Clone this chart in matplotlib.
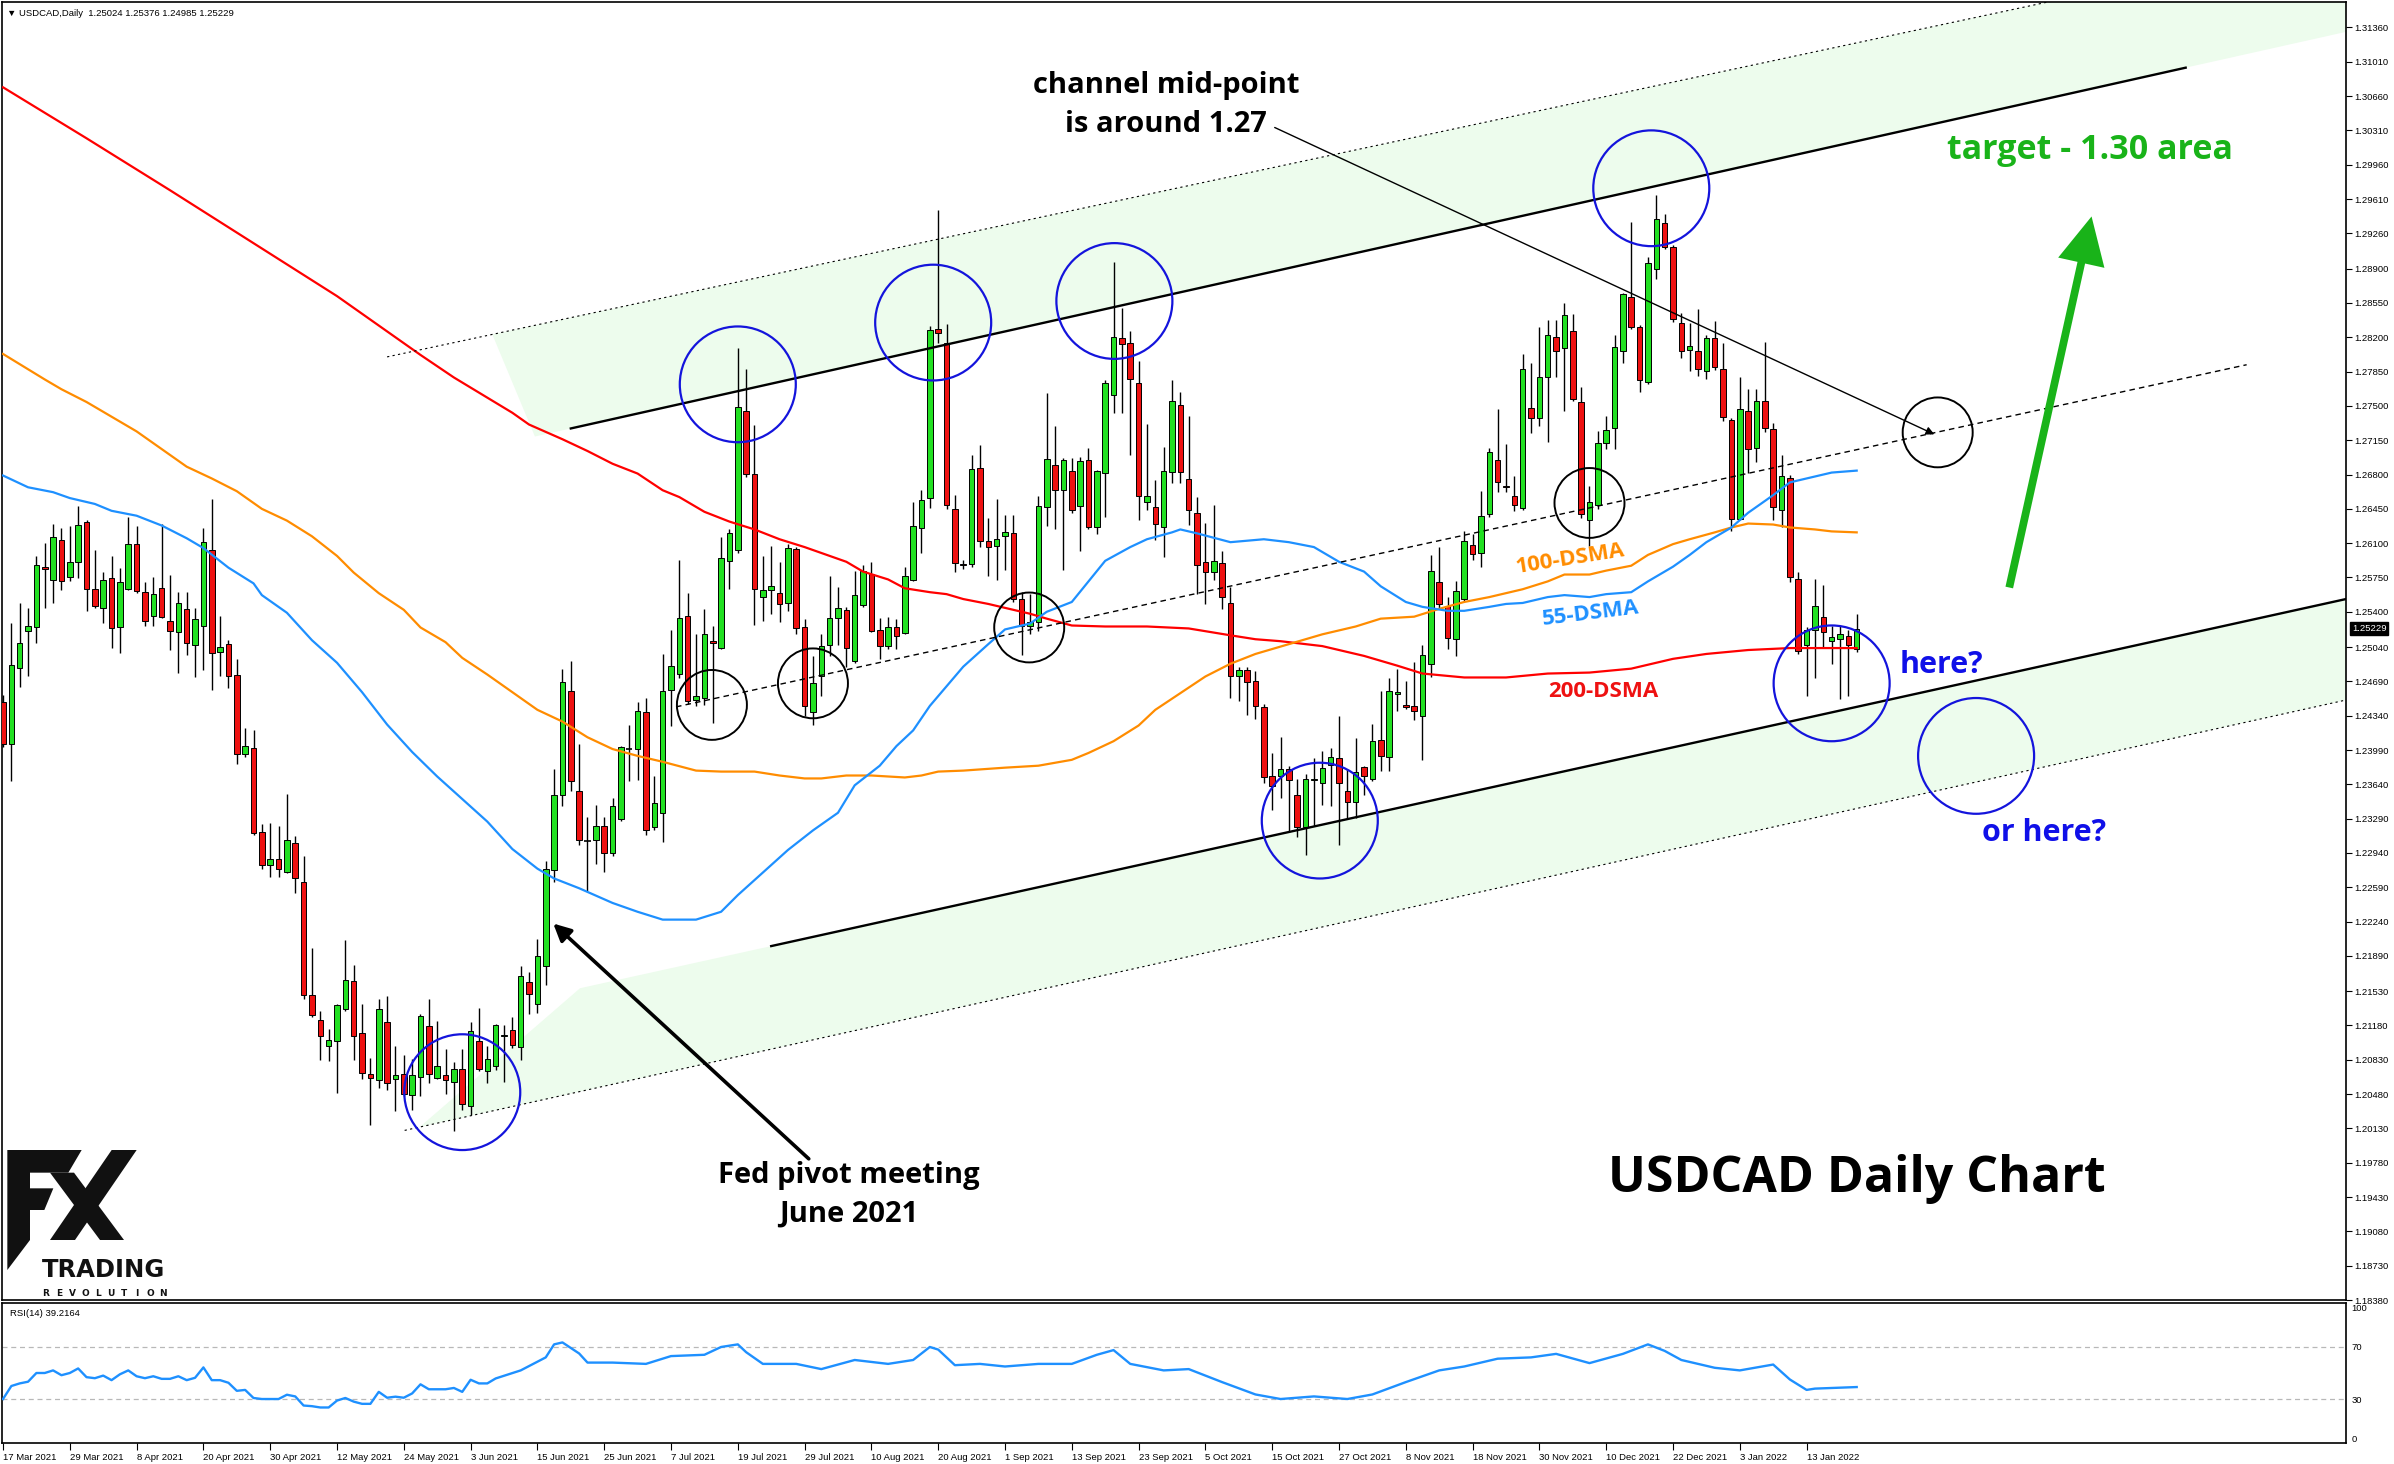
import matplotlib
matplotlib.use("Agg")
import matplotlib.pyplot as plt
import matplotlib.transforms as mtransforms
from matplotlib.patches import Ellipse, Polygon, FancyArrowPatch
import numpy as np

# ---------------- DATA ----------------
x_labels = ['17 Mar 2021', '29 Mar 2021', '8 Apr 2021', '20 Apr 2021', '30 Apr 2021', '12 May 2021',
            '24 May 2021', '3 Jun 2021', '15 Jun 2021', '25 Jun 2021', '7 Jul 2021', '19 Jul 2021',
            '29 Jul 2021', '10 Aug 2021', '20 Aug 2021', '1 Sep 2021', '13 Sep 2021', '23 Sep 2021',
            '5 Oct 2021', '15 Oct 2021', '27 Oct 2021', '8 Nov 2021', '18 Nov 2021', '30 Nov 2021',
            '10 Dec 2021', '22 Dec 2021', '3 Jan 2022', '13 Jan 2022']
x_label_bars = [0, 8, 16, 24, 32, 40, 48, 56, 64, 72, 80, 88, 96, 104, 112, 120, 128, 136,
                144, 152, 160, 168, 176, 184, 192, 200, 208, 216]

y_tick_labels = ['1.31360', '1.31010', '1.30660', '1.30310', '1.29960', '1.29610', '1.29260', '1.28900',
                 '1.28550', '1.28200', '1.27850', '1.27500', '1.27150', '1.26800', '1.26450', '1.26100',
                 '1.25750', '1.25400', '1.25040', '1.24690', '1.24340', '1.23990', '1.23640', '1.23290',
                 '1.22940', '1.22590', '1.22240', '1.21890', '1.21530', '1.21180', '1.20830', '1.20480',
                 '1.20130', '1.19780', '1.19430', '1.19080', '1.18730', '1.18380']

opens = [
1.2448,1.2405,1.2483,1.2520,1.2524,1.2586,1.2572,1.2613,1.2575,1.2591,
1.2632,1.2563,1.2544,1.2574,1.2524,1.2563,1.2609,1.2560,1.2536,1.2564,
1.2531,1.2519,1.2543,1.2506,1.2525,1.2603,1.2499,1.2507,1.2476,1.2395,
1.2401,1.2315,1.2282,1.2288,1.2275,1.2304,1.2264,1.2149,1.2124,1.2097,
1.2102,1.2135,1.2163,1.2110,1.2069,1.2062,1.2122,1.2063,1.2069,1.2047,
1.2065,1.2117,1.2064,1.2067,1.2060,1.2074,1.2036,1.2102,1.2072,1.2077,
1.2107,1.2113,1.2096,1.2162,1.2140,1.2179,1.2277,1.2353,1.2459,1.2357,
1.2306,1.2307,1.2322,1.2294,1.2329,1.2400,1.2400,1.2438,1.2320,1.2335,
1.2460,1.2477,1.2536,1.2450,1.2452,1.2510,1.2503,1.2592,1.2603,1.2745,
1.2681,1.2555,1.2562,1.2559,1.2549,1.2604,1.2524,1.2438,1.2475,1.2506,
1.2534,1.2542,1.2490,1.2547,1.2579,1.2521,1.2505,1.2524,1.2518,1.2572,
1.2625,1.2656,1.2828,1.2814,1.2645,1.2589,1.2589,1.2687,1.2612,1.2607,
1.2617,1.2620,1.2553,1.2525,1.2530,1.2647,1.2690,1.2664,1.2684,1.2648,
1.2695,1.2626,1.2682,1.2761,1.2819,1.2814,1.2773,1.2652,1.2647,1.2626,
1.2683,1.2751,1.2675,1.2641,1.2591,1.2581,1.2590,1.2549,1.2475,1.2481,
1.2469,1.2443,1.2372,1.2372,1.2380,1.2353,1.2320,1.2368,1.2365,1.2384,
1.2391,1.2357,1.2346,1.2382,1.2369,1.2409,1.2392,1.2456,1.2445,1.2444,
1.2434,1.2487,1.2570,1.2546,1.2512,1.2553,1.2608,1.2600,1.2640,1.2695,
1.2668,1.2658,1.2646,1.2748,1.2738,1.2779,1.2820,1.2809,1.2826,1.2754,
1.2634,1.2649,1.2712,1.2727,1.2806,1.2861,1.2830,1.2774,1.2890,1.2937,
1.2912,1.2835,1.2807,1.2806,1.2786,1.2819,1.2788,1.2736,1.2635,1.2745,
1.2707,1.2755,1.2726,1.2644,1.2676,1.2573,1.2506,1.2521,1.2535,1.2510,
1.2512,1.2515,1.25024]

highs = [
1.2455,1.2529,1.2549,1.2544,1.2597,1.2610,1.2630,1.2625,1.2628,1.2648,
1.2634,1.2603,1.2581,1.2597,1.2585,1.2637,1.2628,1.2570,1.2575,1.2630,
1.2578,1.2560,1.2560,1.2544,1.2625,1.2655,1.2536,1.2511,1.2492,1.2421,
1.2419,1.2324,1.2325,1.2321,1.2354,1.2311,1.2291,1.2197,1.2133,1.2114,
1.2140,1.2205,1.2180,1.2140,1.2085,1.2145,1.2148,1.2097,1.2088,1.2084,
1.2130,1.2145,1.2123,1.2094,1.2081,1.2094,1.2122,1.2136,1.2097,1.2120,
1.2119,1.2127,1.2179,1.2173,1.2206,1.2286,1.2380,1.2482,1.2490,1.2405,
1.2331,1.2343,1.2331,1.2350,1.2403,1.2425,1.2448,1.2452,1.2373,1.2497,
1.2521,1.2593,1.2559,1.2517,1.2543,1.2526,1.2616,1.2624,1.2809,1.2788,
1.2731,1.2597,1.2607,1.2591,1.2609,1.2606,1.2533,1.2495,1.2517,1.2577,
1.2565,1.2545,1.2582,1.2588,1.2591,1.2534,1.2535,1.2533,1.2586,1.2652,
1.2664,1.2832,1.2950,1.2834,1.2659,1.2593,1.2700,1.2710,1.2636,1.2655,
1.2639,1.2639,1.2560,1.2558,1.2658,1.2763,1.2729,1.2697,1.2697,1.2698,
1.2707,1.2685,1.2776,1.2897,1.2850,1.2826,1.2796,1.2732,1.2674,1.2708,
1.2776,1.2764,1.2740,1.2657,1.2631,1.2649,1.2602,1.2565,1.2484,1.2484,
1.2480,1.2446,1.2396,1.2412,1.2383,1.2369,1.2375,1.2391,1.2398,1.2401,
1.2434,1.2380,1.2411,1.2383,1.2426,1.2459,1.2472,1.2482,1.2469,1.2489,
1.2506,1.2598,1.2606,1.2555,1.2571,1.2622,1.2619,1.2663,1.2707,1.2747,
1.2711,1.2678,1.2803,1.2794,1.2831,1.2838,1.2838,1.2855,1.2844,1.2769,
1.2668,1.2724,1.2740,1.2822,1.2865,1.2938,1.2833,1.2902,1.2965,1.2946,
1.2914,1.2845,1.2835,1.2849,1.2822,1.2837,1.2814,1.2738,1.2779,1.2767,
1.2767,1.2815,1.2733,1.2700,1.2680,1.2581,1.2524,1.2573,1.2567,1.2526,
1.2525,1.2521,1.25376]

lows = [
1.2402,1.2367,1.2463,1.2475,1.2508,1.2544,1.2549,1.2562,1.2571,1.2574,
1.2541,1.2544,1.2529,1.2503,1.2498,1.2562,1.2559,1.2526,1.2525,1.2534,
1.2501,1.2478,1.2496,1.2473,1.2481,1.2460,1.2474,1.2462,1.2385,1.2392,
1.2312,1.2278,1.2269,1.2269,1.2274,1.2253,1.2145,1.2127,1.2083,1.2082,
1.2049,1.2133,1.2083,1.2063,1.2016,1.2054,1.2052,1.2031,1.2046,1.2032,
1.2046,1.2059,1.2063,1.2048,1.2010,1.2032,1.2027,1.2072,1.2059,1.2073,
1.2060,1.2095,1.2083,1.2130,1.2131,1.2159,1.2264,1.2342,1.2357,1.2302,
1.2255,1.2283,1.2275,1.2291,1.2327,1.2367,1.2368,1.2312,1.2317,1.2305,
1.2424,1.2472,1.2446,1.2444,1.2445,1.2427,1.2502,1.2563,1.2600,1.2677,
1.2527,1.2531,1.2538,1.2530,1.2541,1.2517,1.2434,1.2425,1.2454,1.2495,
1.2506,1.2484,1.2488,1.2545,1.2519,1.2492,1.2502,1.2502,1.2517,1.2571,
1.2600,1.2646,1.2814,1.2645,1.2581,1.2584,1.2586,1.2606,1.2576,1.2572,
1.2583,1.2550,1.2496,1.2517,1.2520,1.2627,1.2624,1.2583,1.2641,1.2602,
1.2624,1.2619,1.2637,1.2743,1.2743,1.2700,1.2634,1.2644,1.2613,1.2596,
1.2671,1.2671,1.2629,1.2558,1.2548,1.2572,1.2543,1.2452,1.2449,1.2435,
1.2431,1.2365,1.2338,1.2350,1.2315,1.2310,1.2292,1.2322,1.2343,1.2342,
1.2302,1.2330,1.2330,1.2353,1.2367,1.2378,1.2378,1.2439,1.2441,1.2430,
1.2389,1.2473,1.2543,1.2502,1.2495,1.2551,1.2593,1.2586,1.2637,1.2662,
1.2662,1.2643,1.2644,1.2722,1.2730,1.2713,1.2779,1.2745,1.2755,1.2636,
1.2607,1.2645,1.2706,1.2706,1.2794,1.2828,1.2764,1.2772,1.2879,1.2910,
1.2836,1.2799,1.2786,1.2781,1.2777,1.2787,1.2735,1.2622,1.2634,1.2682,
1.2693,1.2723,1.2634,1.2626,1.2570,1.2497,1.2454,1.2472,1.2504,1.2487,
1.2451,1.2454,1.24985]

closes = [
1.2405,1.2486,1.2508,1.2525,1.2588,1.2584,1.2616,1.2571,1.2591,1.2629,
1.2563,1.2546,1.2572,1.2523,1.2570,1.2609,1.2561,1.2531,1.2558,1.2535,
1.2520,1.2549,1.2508,1.2533,1.2611,1.2498,1.2504,1.2475,1.2395,1.2403,
1.2314,1.2282,1.2288,1.2278,1.2307,1.2268,1.2149,1.2129,1.2107,1.2103,
1.2139,1.2164,1.2107,1.2070,1.2064,1.2135,1.2059,1.2068,1.2048,1.2067,
1.2128,1.2069,1.2077,1.2062,1.2074,1.2038,1.2112,1.2074,1.2084,1.2119,
1.2108,1.2098,1.2168,1.2150,1.2189,1.2278,1.2353,1.2468,1.2367,1.2307,
1.2306,1.2322,1.2294,1.2342,1.2402,1.2400,1.2439,1.2317,1.2345,1.2459,
1.2485,1.2534,1.2449,1.2454,1.2517,1.2508,1.2595,1.2620,1.2749,1.2681,
1.2563,1.2562,1.2566,1.2548,1.2605,1.2523,1.2444,1.2467,1.2505,1.2534,
1.2544,1.2503,1.2557,1.2582,1.2520,1.2505,1.2524,1.2515,1.2576,1.2627,
1.2654,1.2827,1.2824,1.2649,1.2590,1.2588,1.2686,1.2612,1.2606,1.2614,
1.2621,1.2553,1.2525,1.2530,1.2648,1.2696,1.2664,1.2695,1.2644,1.2694,
1.2626,1.2684,1.2773,1.2820,1.2813,1.2777,1.2658,1.2658,1.2630,1.2684,
1.2755,1.2683,1.2644,1.2588,1.2581,1.2592,1.2555,1.2475,1.2481,1.2468,
1.2444,1.2371,1.2362,1.2380,1.2368,1.2320,1.2369,1.2369,1.2381,1.2392,
1.2365,1.2346,1.2377,1.2373,1.2408,1.2393,1.2459,1.2458,1.2443,1.2439,
1.2496,1.2582,1.2548,1.2513,1.2561,1.2612,1.2599,1.2638,1.2703,1.2672,
1.2667,1.2649,1.2788,1.2738,1.2779,1.2822,1.2806,1.2843,1.2757,1.2640,
1.2652,1.2712,1.2725,1.2810,1.2864,1.2831,1.2776,1.2896,1.2941,1.2912,
1.2839,1.2806,1.2811,1.2788,1.2819,1.2790,1.2739,1.2635,1.2747,1.2706,
1.2755,1.2727,1.2647,1.2678,1.2575,1.2500,1.2521,1.2546,1.2519,1.2514,
1.2517,1.2506,1.25229]

ma200_idx = [0,10,20,30,40,50,54,61,63,67,70,73,76,79,81,84,87,90,93,96,98,101,103,106,108,111,113,115,118,120,
             123,125,128,132,137,142,147,150,153,158,163,167,170,175,180,185,190,195,200,204,209,214,219,222]
ma200_val = [1.3075,1.3023,1.2970,1.2916,1.2862,1.2802,1.2779,1.2743,1.2731,1.2716,1.2704,1.2691,1.2681,1.2664,
             1.2657,1.2642,1.2632,1.2624,1.2614,1.2606,1.2600,1.2591,1.2581,1.2573,1.2564,1.2560,1.2558,1.2553,
             1.2548,1.2544,1.2538,1.2533,1.2526,1.2525,1.2525,1.2523,1.2516,1.2512,1.2510,1.2505,1.2495,1.2485,
             1.2477,1.2473,1.2473,1.2477,1.2478,1.2482,1.2492,1.2497,1.2501,1.2503,1.2503,1.2503]

ma100_idx = [0,5,7,10,13,16,19,22,25,28,31,34,37,40,42,45,48,50,53,55,58,61,64,67,70,73,76,79,83,86,90,93,96,98,
             101,104,108,110,112,115,120,124,128,130,133,136,138,141,144,147,150,154,158,162,165,169,172,175,178,
             182,185,187,190,192,195,197,200,202,205,207,209,212,214,217,219,222]
ma100_val = [1.2803,1.2777,1.2767,1.2754,1.2739,1.2724,1.2706,1.2688,1.2676,1.2663,1.2645,1.2633,1.2617,1.2597,
             1.2580,1.2559,1.2542,1.2524,1.2509,1.2493,1.2476,1.2458,1.2440,1.2428,1.2412,1.2400,1.2393,1.2387,
             1.2378,1.2377,1.2377,1.2373,1.2370,1.2370,1.2373,1.2373,1.2371,1.2373,1.2377,1.2378,1.2381,1.2383,
             1.2389,1.2396,1.2408,1.2424,1.2440,1.2457,1.2474,1.2487,1.2497,1.2507,1.2517,1.2525,1.2533,1.2535,
             1.2543,1.2550,1.2555,1.2563,1.2571,1.2578,1.2578,1.2582,1.2587,1.2598,1.2609,1.2614,1.2621,1.2626,
             1.2630,1.2629,1.2626,1.2624,1.2622,1.2621]

ma55_idx = [0,3,6,8,11,13,16,19,22,24,27,30,31,34,37,40,43,46,49,52,55,58,61,64,66,69,73,76,79,83,86,88,91,94,97,
            100,102,105,107,109,111,113,115,118,120,123,125,128,130,132,135,137,140,141,143,147,151,154,157,160,
            163,165,168,170,173,175,178,180,182,185,187,190,192,195,197,200,202,204,207,209,212,214,217,219,222]
ma55_val = [1.2679,1.2667,1.2662,1.2656,1.2650,1.2643,1.2638,1.2628,1.2615,1.2605,1.2585,1.2569,1.2557,1.2539,
            1.2511,1.2488,1.2458,1.2425,1.2397,1.2372,1.2349,1.2326,1.2298,1.2278,1.2268,1.2258,1.2243,1.2234,
            1.2226,1.2226,1.2234,1.2251,1.2274,1.2297,1.2317,1.2335,1.2363,1.2383,1.2403,1.2419,1.2444,1.2464,
            1.2484,1.2507,1.2522,1.2528,1.2540,1.2550,1.2571,1.2592,1.2606,1.2614,1.2621,1.2624,1.2620,1.2611,
            1.2614,1.2611,1.2606,1.2591,1.2581,1.2566,1.2550,1.2545,1.2541,1.2541,1.2545,1.2548,1.2549,1.2555,
            1.2557,1.2555,1.2558,1.2560,1.2571,1.2586,1.2598,1.2611,1.2626,1.2641,1.2659,1.2672,1.2678,1.2682,1.2684]

rsi_idx = [0,1,2,3,4,5,6,7,8,9,10,11,12,13,14,15,16,17,18,19,20,21,22,23,24,25,26,27,28,29,
           30,31,32,33,34,35,36,37,38,39,40,41,42,43,44,45,46,47,48,49,50,51,52,53,54,55,56,57,58,59,
           62,65,66,67,69,70,73,77,80,84,86,88,89,91,95,98,102,106,109,111,112,114,117,120,124,128,131,
           133,135,139,142,146,150,153,157,161,164,168,172,175,179,183,186,190,194,197,199,201,205,208,
           212,214,216,217,222]
rsi_val = [30,40,42,43.3,50,50,52,48.3,50,53.5,46.8,46,48,44.5,49,52,47.5,46,47.5,45.5,
           45.5,47.5,44.5,46.3,54.3,44.5,44.5,42.5,36.3,37,30.8,30,30,30,33.3,32,25,24.5,23.5,23.5,
           28.8,30.8,28,26.3,26.3,35.5,31,31.8,31,34.3,41.3,37.5,37.5,37.5,38.5,35.5,44.8,42,42,45.8,
           52,62,72,73.5,65,58,58,57,63,64,70,72,66,57,57,53,60,57,60,70,
           68,56,57,55,57,57,64,67.6,57,52,53,43,33.5,30,32,30,33.5,43,52,55,
           61,62,64.7,57.6,64.7,72,67,60,54,52,56.5,45,37,38,39.2]

header_text = "\u25bc USDCAD,Daily  1.25024 1.25376 1.24985 1.25229"
rsi_text = "RSI(14) 39.2164"
last_price_label = "1.25229"

# ---------------- FIGURE ----------------
W, H = 2394, 1464
fig = plt.figure(figsize=(W / 100, H / 100), dpi=100)
fig.patch.set_facecolor('white')

def fpos(x, y):
    return (x / W, 1 - y / H)

ax = fig.add_axes([2 / W, 1 - 1300 / H, 2344 / W, 1298 / H])
rs = fig.add_axes([2 / W, 1 - 1443 / H, 2344 / W, 140 / H])

YMIN, YMAX = 1.18406, 1.31620
XMIN, XMAX = -0.12, 280.6
ax.set_xlim(XMIN, XMAX)
ax.set_ylim(YMIN, YMAX)
rs.set_xlim(XMIN, XMAX)
rs.set_ylim(-3.8, 103.8)

AXFONT = ['Liberation Sans', 'DejaVu Sans']
ANN = ['Open Sans', 'DejaVu Sans']

n = min(len(opens), len(highs), len(lows), len(closes))
o = np.array(opens[:n]); h = np.array(highs[:n]); l = np.array(lows[:n]); c = np.array(closes[:n])
idx = np.arange(n)
up = c > o
dn = c < o
eq = c == o

GREEN = '#22e022'
RED = '#ee1111'
ax.vlines(idx, l, h, color='black', lw=1.0, zorder=4)
ax.bar(idx[up], (c - o)[up], bottom=o[up], width=0.66, color=GREEN, edgecolor='black', lw=0.7, zorder=5)
ax.bar(idx[dn], (o - c)[dn], bottom=c[dn], width=0.66, color=RED, edgecolor='black', lw=0.7, zorder=5)
ax.hlines(c[eq], idx[eq] - 0.36, idx[eq] + 0.36, color='black', lw=1.2, zorder=5)

# moving averages
ax.plot(ma200_idx, ma200_val, color='#ff0000', lw=1.6, zorder=6)
ax.plot(ma100_idx, ma100_val, color='#ff8c00', lw=1.6, zorder=6)
ax.plot(ma55_idx, ma55_val, color='#1e90ff', lw=1.6, zorder=6)

# channel (drawing objects)
FILL = '#edfced'
s_up = (1.3095 - 1.2727) / (261.4 - 68.0)
s_ud = 0.000182
s_mid = (1.2792 - 1.2443) / (268.7 - 80.6)
s_lo = (1.2553 - 1.2199) / (280.6 - 92.0)
s_ld = (1.2450 - 1.2011) / (280.6 - 48.1)

def up_solid(i): return 1.2727 + s_up * (i - 68.0)
def up_dot(i): return 1.2800 + s_ud * (i - 46.0)
def lo_solid(i): return 1.2199 + s_lo * (i - 92.0)
def lo_dot(i): return 1.2011 + s_ld * (i - 48.1)

ax.add_patch(Polygon([(58.6, up_dot(58.6)), (282, up_dot(282)), (282, up_solid(282)), (63.7, up_solid(63.7))],
                     closed=True, facecolor=FILL, edgecolor='none', zorder=1))
ax.add_patch(Polygon([(49.9, lo_dot(49.9)), (69.1, lo_solid(69.1)), (282, lo_solid(282)), (282, lo_dot(282))],
                     closed=True, facecolor=FILL, edgecolor='none', zorder=1))

ax.plot([68.0, 261.4], [up_solid(68.0), up_solid(261.4)], color='black', lw=1.7, zorder=7)
ax.plot([46.0, 282], [up_dot(46.0), up_dot(282)], color='black', lw=0.8, ls=(0, (2, 3)), zorder=7)
ax.plot([80.6, 268.7], [1.2443, 1.2443 + s_mid * (268.7 - 80.6)], color='black', lw=1.0, ls=(0, (4, 3)), zorder=7)
ax.plot([92.0, 282], [lo_solid(92.0), lo_solid(282)], color='black', lw=1.7, zorder=7)
ax.plot([48.1, 282], [lo_dot(48.1), lo_dot(282)], color='black', lw=0.8, ls=(0, (2, 3)), zorder=7)

# circles (pixel radius)
ppx = 2344.0 / (XMAX - XMIN)
ppy = 1298.0 / (YMAX - YMIN)

def circle(i, p, r, color, lw):
    ax.add_patch(Ellipse((i, p), 2 * r / ppx, 2 * r / ppy, fill=False, edgecolor=color, lw=lw, zorder=9))

BLUE = '#1414dc'
for (ci, cp) in [(55.0, 1.2050), (88.0, 1.2772), (111.4, 1.2835), (133.1, 1.2857), (197.4, 1.2972),
                 (157.7, 1.2327), (219.0, 1.2467), (236.3, 1.2393)]:
    circle(ci, cp, 58, BLUE, 1.6)
for (ci, cp) in [(84.9, 1.2445), (97.0, 1.2467), (122.9, 1.2524), (190.0, 1.2651), (231.7, 1.2723)]:
    circle(ci, cp, 35, 'black', 1.4)

# arrows
ax.annotate('', xy=(231.3, 1.2721), xytext=(152.3, 1.3034),
            arrowprops=dict(arrowstyle='-|>', color='black', lw=1.0, mutation_scale=12, shrinkA=0, shrinkB=0),
            zorder=10)
ax.annotate('', xy=(65.9, 1.2222), xytext=(96.5, 1.1982),
            arrowprops=dict(arrowstyle='-|>', color='black', lw=2.6, mutation_scale=26, shrinkA=0, shrinkB=0),
            zorder=10)
ga = FancyArrowPatch((240.2, 1.2562), (250.2, 1.2946),
                     arrowstyle='simple,head_length=0.55,head_width=0.55,tail_width=0.09',
                     mutation_scale=62, color='#19b319', lw=0, zorder=10)
ax.add_patch(ga)

for a in (ax, rs):
    for sp in a.spines.values():
        sp.set_linewidth(1.2)
        sp.set_color('black')

# y ticks main
ax.set_xticks([])
ax.yaxis.tick_right()
ax.set_yticks([float(v) for v in y_tick_labels])
ax.set_yticklabels(y_tick_labels)
ax.tick_params(axis='y', direction='out', length=4, width=0.8, pad=2, labelsize=6.8,
               labelfontfamily='Liberation Sans')

# price tag
tr = mtransforms.blended_transform_factory(ax.transAxes, ax.transData)
ax.text(1.0025, closes[-1], last_price_label, transform=tr, ha='left', va='center', color='white',
        fontsize=6.8, family=AXFONT,
        bbox=dict(boxstyle='square,pad=0.18', facecolor='black', edgecolor='black'), zorder=20, clip_on=False)

# RSI panel
rs.plot(rsi_idx, rsi_val, color='#1e90ff', lw=1.7, zorder=3)
for lv in (70, 30):
    rs.axhline(lv, color='#b8b8b8', lw=0.9, ls=(0, (4, 3)), zorder=1)
rs.yaxis.tick_right()
rs.set_yticks([100, 70, 30, 0])
rs.set_yticklabels(['100', '70', '30', '0'])
rs.tick_params(axis='y', direction='out', length=0, pad=4, labelsize=6.8, labelfontfamily='Liberation Sans')
rs.set_xticks(x_label_bars)
rs.set_xticklabels(x_labels)
rs.tick_params(axis='x', direction='out', length=5, width=0.8, pad=2, labelsize=6.8,
               labelfontfamily='Liberation Sans')
for lb in rs.get_xticklabels():
    lb.set_horizontalalignment('left')
rs.text(8 / 2344, 1 - 10 / 140, rsi_text, transform=rs.transAxes, ha='left', va='center',
        fontsize=6.8, family=AXFONT)

# header
ax.text(5 / 2344, 1 - 11 / 1298, header_text, transform=ax.transAxes, ha='left', va='center',
        fontsize=6.8, family=AXFONT)

# annotations text
def T(x, y, s, **kw):
    fig.text(x / W, 1 - y / H, s, ha='center', va='center', family=ANN, fontweight='bold', zorder=30, **kw)

T(1166, 86, 'channel mid-point', fontsize=21, color='black')
T(1166, 125, 'is around 1.27', fontsize=21, color='black')
T(2090, 150, 'target - 1.30 area', fontsize=24.5, color='#19b319')
T(1570, 559, '100-DSMA', fontsize=16, color='#ff8c00', rotation=9)
T(1591, 614, '55-DSMA', fontsize=16, color='#1e90ff', rotation=7)
T(1603, 691, '200-DSMA', fontsize=16, color='#ee1111')
T(1941, 665, 'here?', fontsize=22, color='#1010e8')
T(2044, 833, 'or here?', fontsize=22, color='#1010e8')
T(849, 1175, 'Fed pivot meeting', fontsize=21, color='black')
T(849, 1214, 'June 2021', fontsize=21, color='black')
T(1857, 1179, 'USDCAD Daily Chart', fontsize=36, color='black')

# logo
def zp(zx, zy):
    return fpos(zx / 3.0, 1130 + zy / 3.0)

F_shape = [(22, 60), (245, 60), (205, 128), (90, 128), (90, 175), (160, 175), (133, 240), (90, 240), (90, 330), (22, 420)]
X_a = [(335, 60), (410, 60), (225, 330), (150, 330)]
X_b = [(150, 128), (222, 128), (372, 330), (300, 330)]
for shp in (F_shape, X_a, X_b):
    fig.add_artist(Polygon([zp(a, b) for a, b in shp], closed=True, facecolor='#111111', edgecolor='none',
                           transform=fig.transFigure, zorder=30))
fig.text(104 / W, 1 - 1270 / H, 'TRADING', ha='center', va='center', fontsize=17.5, fontweight='bold',
         family=['DejaVu Sans'], color='#111111', zorder=30)
for k, ch in enumerate('REVOLUTION'):
    fig.text((46 + k * 13.0) / W, 1 - 1293 / H, ch, ha='center', va='center', fontsize=6.5,
             fontweight='bold', family=['DejaVu Sans'], color='#111111', zorder=30)

fig.savefig('out.png', dpi=100, facecolor='white')
